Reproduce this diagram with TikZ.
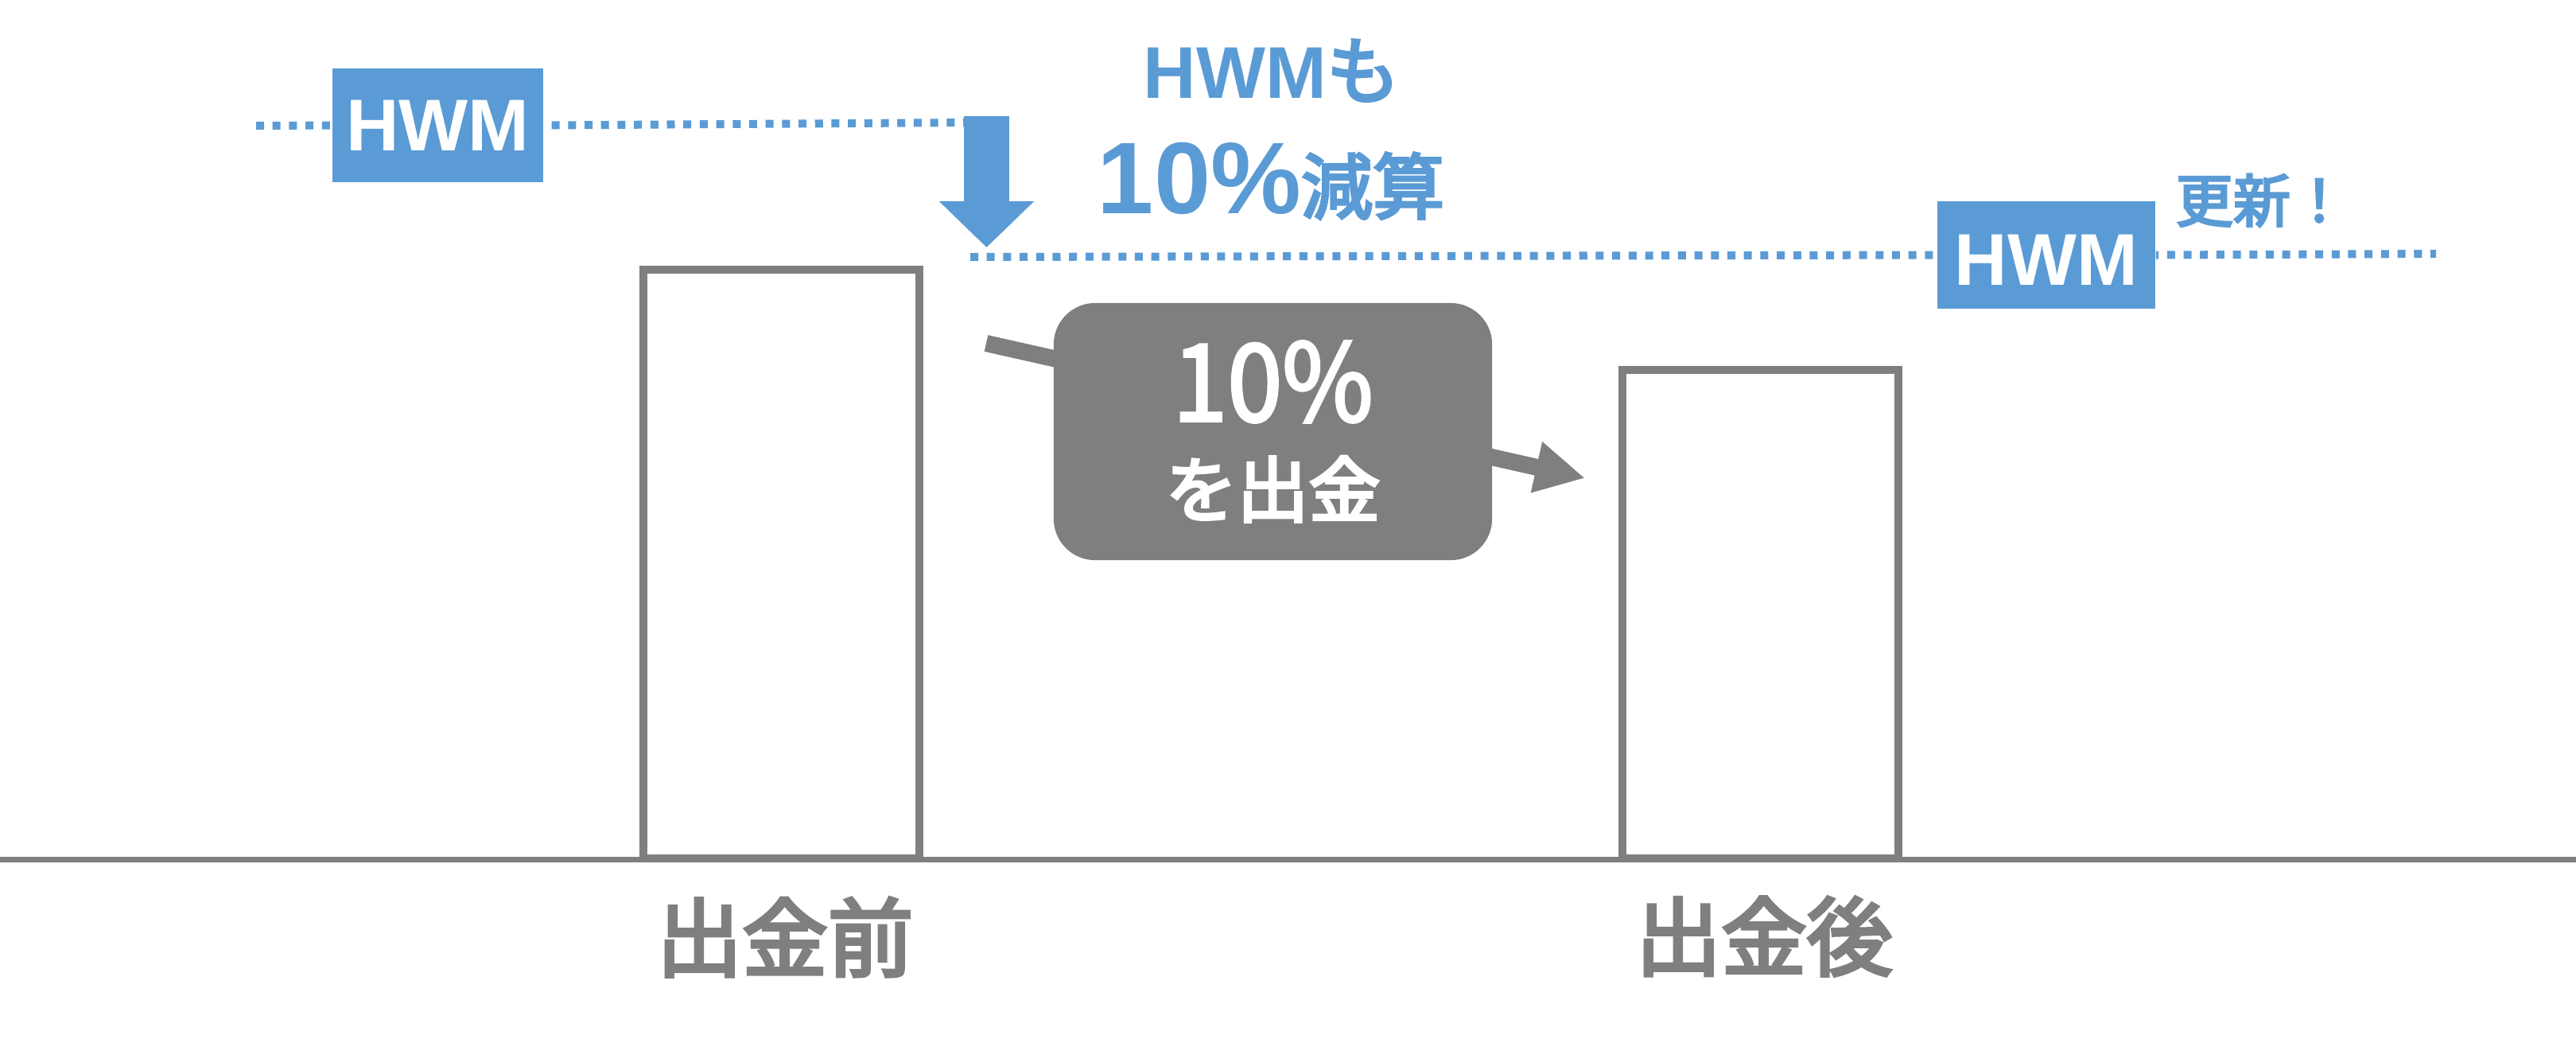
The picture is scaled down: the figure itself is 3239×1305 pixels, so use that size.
\documentclass[tikz,border=0pt]{standalone}
\usepackage{fontspec}
\setmainfont{Liberation Sans}
\newfontfamily\jpfont[FakeBold=4]{Noto Sans CJK JP}
\newfontfamily\jpdigit[FakeBold=2.5, FakeStretch=0.92]{Noto Sans CJK JP}
\usetikzlibrary{arrows.meta}
\definecolor{hwmblue}{HTML}{5B9BD5}
\definecolor{bargray}{HTML}{7F7F7F}
\begin{document}
\begin{tikzpicture}[x=0.01cm, y=-0.01cm, >={Triangle},
    hwmdots/.style={hwmblue, line width=2.845pt, dash pattern=on 2.845pt off 3.04pt},
    hwmbox/.style={fill=hwmblue, text=white, inner sep=0pt, font=\fontsize{26.2}{26.2}\selectfont\bfseries},
    hwmtext/.style={hwmblue, inner sep=0pt, anchor=base},
    barbox/.style={draw=bargray, line width=2.845pt, inner sep=0pt},
    barlabel/.style={bargray, inner sep=0pt, font=\jpfont\fontsize{30.6}{30.6}\selectfont}]
    \useasboundingbox (0,0) rectangle (3239,1305);

    \node[barbox, minimum width=3.47cm, minimum height=7.40cm] (before) at (982.5,709) {};
    \node[barbox, minimum width=3.47cm, minimum height=6.14cm] (after) at (2213.5,772) {};
    \coordinate (groundL) at (0,1080.5);
    \coordinate (groundR) at (3239,1080.5);
    \draw[bargray, line width=1.99pt] (groundL) -- (groundR);
    \node[barlabel] (beforelabel) at (987,1178) {出金前};
    \node[barlabel] (afterlabel) at (2218,1177) {出金後};

    \coordinate (oldL) at (322,158);
    \coordinate (oldR) at (1225,154);
    \coordinate (newL) at (1220,323);
    \coordinate (newR) at (3063,319);
    \node[hwmbox, minimum width=2.65cm, minimum height=1.43cm] (oldhwm) at (550.5,157.5) {HWM};
    \node[hwmbox, minimum width=2.74cm, minimum height=1.35cm, text height=21.6pt, text depth=0pt] (newhwm) at (2573,320.5) {HWM};
    \draw[hwmdots] (oldL) -- (oldhwm.west);
    \draw[hwmdots, shorten <=2.8pt] (oldhwm.east) -- (oldR);
    \draw[hwmdots] (newL) -- (newhwm.west);
    \draw[hwmdots, dash phase=1.9pt] (newhwm.east) -- (newR);

    \coordinate (dropS) at (1240.5,146);
    \coordinate (dropE) at (1240.5,311);
    \draw[-{Triangle[length=16.5pt, width=33pt]}, hwmblue, line width=16.2pt] (dropS) -- (dropE);

    \node[hwmtext, font=\fontsize{26.2}{26.2}\selectfont\bfseries] (downtop) at (1599,123) {HWM{\jpfont\mdseries も}};
    \node[hwmtext, font=\bfseries] (downlow) at (1598,268) {{\fontsize{36.4}{36.4}\selectfont 10\%}{\jpfont\mdseries\fontsize{25.6}{25.6}\selectfont 減算}};
    \node[hwmtext, font=\jpfont\fontsize{20.5}{20.5}\selectfont] (renew) at (2844,279) {更新！};

    \coordinate (moveS) at (1240,431.5);
    \coordinate (moveE) at (1993,601);
    \draw[-{Triangle[length=17.8pt, width=17.4pt]}, bargray, line width=6pt] (moveS) -- (moveE);
    \node[fill=bargray, text=white, rounded corners=14.8pt, inner sep=0pt, minimum width=5.51cm, minimum height=3.23cm, align=center, font=\jpfont] (move) at (1600.5,542.5)
        {{\jpdigit\fontsize{38.4}{38.4}\selectfont 10\%}\\[11pt]{\fontsize{25.6}{25.6}\selectfont を出金}};
\end{tikzpicture}
\end{document}
